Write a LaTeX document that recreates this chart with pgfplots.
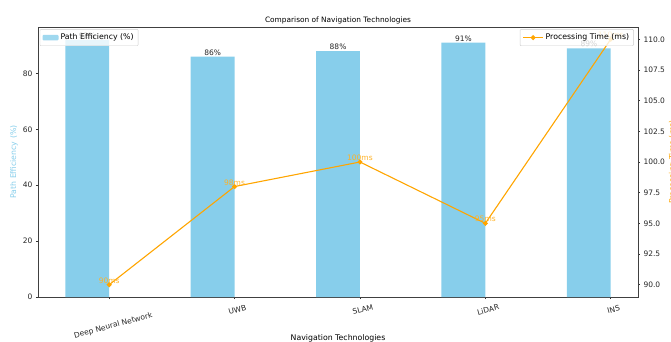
\documentclass[border=0pt]{standalone}
\usepackage{pgfplots}
\pgfplotsset{compat=1.18}
\usepackage{fontspec}
\setmainfont{DejaVu Sans}
\usetikzlibrary{calc}
\definecolor{skyb}{HTML}{87CEEB}
\definecolor{orng}{HTML}{FFA500}
\begin{document}
\begin{tikzpicture}
\pgfplotsset{
  every axis title shift=0pt,
  base/.style={
    scale only axis, width=600pt, height=270pt,
    xmin=-0.5675, xmax=4.2175,
    tick align=outside, major tick length=2pt,
    tick style={black!80, line width=0.5pt},
    axis line style={black!75, line width=0.6pt},
    tick label style={font=\fontsize{7.5}{8}\selectfont, text=black!85},
    /pgf/number format/assume math mode=true,
    legend style={font=\fontsize{7.8}{9}\selectfont, draw=black!20, fill=white,
      fill opacity=0.8, text opacity=1, rounded corners=1pt, inner sep=2.5pt},
  }
}
\begin{axis}[base,
  ymin=0, ymax=96.6,
  ytick={0,20,40,60,80},
  xtick={1,2,3,4},
  xticklabels={UWB, SLAM, LiDAR, INS},
  xticklabel style={rotate=15, anchor=center, yshift=-11pt},
  extra x ticks={0},
  extra x tick labels={Deep Neural Network},
  extra x tick style={xticklabel style={yshift=-16pt, xshift=-3pt}},
  xtick pos=left, ytick pos=left,
  title={Comparison of Navigation Technologies},
  title style={font=\fontsize{7.4}{8}\selectfont, at={(axis description cs:0.5,1.025)}, anchor=center},
  xlabel={Navigation Technologies},
  xlabel style={font=\fontsize{7.8}{9}\selectfont, at={(axis description cs:0.5,-0.152)}, anchor=center},
  ylabel={Path Efficiency (\%)},
  ylabel style={font=\fontsize{7.8}{9}\selectfont, text=skyb, at={(axis description cs:-0.04,0.5)}, anchor=center},
  legend style={at={(axis description cs:0.003,0.992)}, anchor=north west},
  legend cell align=left,
]
\coordinate (sw) at (rel axis cs:0,0);
\addplot[ybar, bar width=0.35, bar shift=-0.175, fill=skyb, draw=none,
  point meta=y,
  nodes near coords={\pgfmathprintnumber[fixed,precision=0]{\pgfplotspointmeta}\%},
  every node near coord/.style={font=\fontsize{7.5}{8}\selectfont, text=black!85, anchor=base, yshift=1.5pt, xshift=-21.9pt, inner sep=0pt},
  legend image code/.code={\fill[skyb] (0pt,-2.8pt) rectangle (16pt,2.8pt);}
] coordinates {(0,92) (1,86) (2,88) (3,91) (4,89)};
\addlegendentry{Path Efficiency (\%)}
\end{axis}
\begin{axis}[base,
  ymin=89, ymax=111,
  ytick={90,92.5,95,97.5,100,102.5,105,107.5,110},
  yticklabel style={/pgf/number format/.cd, fixed, fixed zerofill, precision=1},
  axis x line=none,
  axis y line*=right,
  ylabel={Processing Time (ms)},
  ylabel style={font=\fontsize{7.8}{9}\selectfont, text=orng, at={(axis description cs:1.058,0.5)}, anchor=center},
  legend style={at={(axis description cs:0.993,0.992)}, anchor=north east},
]
\addplot[orng, line width=1.1pt, mark=*, mark size=1.9pt, mark options={fill=orng, draw=orng},
  point meta=y,
  nodes near coords={\pgfmathprintnumber[fixed,precision=0]{\pgfplotspointmeta}ms},
  every node near coord/.style={font=\fontsize{7.5}{8}\selectfont, text=orng!85!white, anchor=base, yshift=1.5pt, inner sep=0pt},
  legend image code/.code={\draw[orng, line width=1.1pt] (0pt,0pt) -- (20pt,0pt); \fill[orng] (10pt,0pt) circle (1.9pt);}
] coordinates {(0,90) (1,98) (2,100) (3,95) (4,110)};
\addlegendentry{Processing Time (ms)}
\end{axis}
\pgfresetboundingbox
\useasboundingbox ($(sw)+(-38pt,-44pt)$) rectangle ($(sw)+(633pt,297pt)$);
\end{tikzpicture}
\end{document}
